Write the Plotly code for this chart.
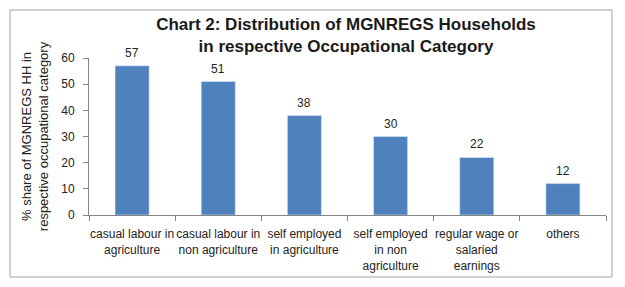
import plotly.graph_objects as go

categories = ["casual labour in<br>agriculture", "casual labour in<br>non agriculture",
              "self employed<br>in agriculture", "self employed<br>in non<br>agriculture",
              "regular wage or<br>salaried<br>earnings", "others"]
values = [57, 51, 38, 30, 22, 12]
y_ticks = [0, 10, 20, 30, 40, 50, 60]

fig = go.Figure(go.Bar(
    x=categories, y=values, marker_color="#4F81BD", width=0.395,
))

for c, v in zip(categories, values):
    fig.add_annotation(x=c, y=v, text=str(v), showarrow=False, yanchor="middle",
                       yshift=13, font=dict(size=12, color="#222", family="Liberation Sans"))

fig.update_layout(
    width=625, height=287,
    margin=dict(l=89, r=19, t=58, b=72),
    paper_bgcolor="white", plot_bgcolor="white",
    title=dict(text="<b>Chart 2: Distribution of MGNREGS Households<br>in respective Occupational Category</b>",
               x=0.5536, xref="container", xanchor="center", y=1 - 30 / 287, yanchor="top",
               font=dict(family="Liberation Sans", size=17, color="#1a1a1a")),
    showlegend=False,
    font=dict(family="Liberation Sans", size=12, color="#222"),
)
fig.update_yaxes(range=[0, 60], tickvals=y_ticks, showline=True, linecolor="#868686",
                 ticks="outside", ticklen=5, tickcolor="#868686", showgrid=False, zeroline=False,
                 ticklabelstandoff=6,
                 title=dict(text="% share of MGNREGS HH in<br>respective occupational category",
                            font=dict(size=13), standoff=9),
                 tickfont=dict(size=12))
fig.update_xaxes(showline=True, linecolor="#868686", ticks="outside", ticklen=5,
                 tickcolor="#868686", tickson="boundaries", tickfont=dict(size=12), tickangle=0,
                 ticklabelstandoff=8)

fig.add_shape(type="rect", xref="paper", yref="paper",
              x0=(10 - 89) / 517, x1=(612 - 89) / 517, y0=(215 - 277) / 157, y1=(215 - 10) / 157,
              line=dict(color="#a0a0a0", width=1), fillcolor="rgba(0,0,0,0)")

fig.write_html("out.html")
